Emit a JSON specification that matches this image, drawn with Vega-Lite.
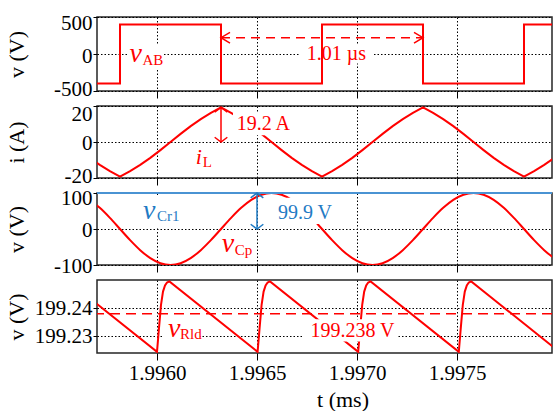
{
  "$schema": "https://vega.github.io/schema/vega-lite/v6.json",
  "background": "white",
  "padding": {"left": 4, "top": 11, "right": 0, "bottom": 0},
  "spacing": 15,
  "bounds": "flush",
  "config": {
    "font": "Liberation Serif, Times New Roman, serif",
    "view": {"stroke": "#262626", "strokeWidth": 1.5},
    "axis": {
      "labelFont": "Liberation Serif, Times New Roman, serif", "labelFontSize": 21, "labelColor": "black", "labelOverlap": false,
      "titleFont": "Liberation Serif, Times New Roman, serif", "titleFontSize": 22, "titleFontWeight": "normal", "titleColor": "black",
      "domain": false, "tickColor": "black", "tickWidth": 1,
      "gridColor": "black", "gridDash": [1.5, 2], "gridOpacity": 1, "gridWidth": 1
    },
    "axisX": {"tickSize": 7, "labelPadding": 2, "labelFlush": false, "tickCount": 20},
    "axisY": {"tickSize": 4, "labelPadding": 1, "titleX": -69, "tickCount": 10},
    "text": {"font": "Liberation Serif, Times New Roman, serif"}
  },
  "datasets": {
    "one": [{}],
    "sq": [
      {"t": 1.9957, "vAB": -400},
      {"t": 1.995815, "vAB": 400},
      {"t": 1.99632, "vAB": -400},
      {"t": 1.996825, "vAB": 400},
      {"t": 1.99733, "vAB": -400},
      {"t": 1.997835, "vAB": 400},
      {"t": 1.99805, "vAB": 400}
    ],
    "main": [
      {"t": 1.9956635, "iL": -8.8, "vCp": 80.8},
      {"t": 1.995714, "iL": -12.7, "vCp": 58.7},
      {"t": 1.9957645, "iL": -16.2, "vCp": 30.9},
      {"t": 1.995815, "iL": -19.2, "vCp": 0},
      {"t": 1.9958655, "iL": -16.2, "vCp": -30.9},
      {"t": 1.995916, "iL": -12.7, "vCp": -58.7},
      {"t": 1.9959665, "iL": -8.8, "vCp": -80.8},
      {"t": 1.996017, "iL": -4.5, "vCp": -95.0},
      {"t": 1.9960675, "iL": 0, "vCp": -99.9},
      {"t": 1.996118, "iL": 4.5, "vCp": -95.0},
      {"t": 1.9961685, "iL": 8.8, "vCp": -80.8},
      {"t": 1.996219, "iL": 12.7, "vCp": -58.7},
      {"t": 1.9962695, "iL": 16.2, "vCp": -30.9},
      {"t": 1.99632, "iL": 19.2, "vCp": 0},
      {"t": 1.9963705, "iL": 16.2, "vCp": 30.9},
      {"t": 1.996421, "iL": 12.7, "vCp": 58.7},
      {"t": 1.9964715, "iL": 8.8, "vCp": 80.8},
      {"t": 1.996522, "iL": 4.5, "vCp": 95.0},
      {"t": 1.9965725, "iL": 0, "vCp": 99.9},
      {"t": 1.996623, "iL": -4.5, "vCp": 95.0},
      {"t": 1.9966735, "iL": -8.8, "vCp": 80.8},
      {"t": 1.996724, "iL": -12.7, "vCp": 58.7},
      {"t": 1.9967745, "iL": -16.2, "vCp": 30.9},
      {"t": 1.996825, "iL": -19.2, "vCp": 0},
      {"t": 1.9968755, "iL": -16.2, "vCp": -30.9},
      {"t": 1.996926, "iL": -12.7, "vCp": -58.7},
      {"t": 1.9969765, "iL": -8.8, "vCp": -80.8},
      {"t": 1.997027, "iL": -4.5, "vCp": -95.0},
      {"t": 1.9970775, "iL": 0, "vCp": -99.9},
      {"t": 1.997128, "iL": 4.5, "vCp": -95.0},
      {"t": 1.9971785, "iL": 8.8, "vCp": -80.8},
      {"t": 1.997229, "iL": 12.7, "vCp": -58.7},
      {"t": 1.9972795, "iL": 16.2, "vCp": -30.9},
      {"t": 1.99733, "iL": 19.2, "vCp": 0},
      {"t": 1.9973805, "iL": 16.2, "vCp": 30.9},
      {"t": 1.997431, "iL": 12.7, "vCp": 58.7},
      {"t": 1.9974815, "iL": 8.8, "vCp": 80.8},
      {"t": 1.997532, "iL": 4.5, "vCp": 95.0},
      {"t": 1.9975825, "iL": 0, "vCp": 99.9},
      {"t": 1.997633, "iL": -4.5, "vCp": 95.0},
      {"t": 1.9976835, "iL": -8.8, "vCp": 80.8},
      {"t": 1.997734, "iL": -12.7, "vCp": 58.7},
      {"t": 1.9977845, "iL": -16.2, "vCp": 30.9},
      {"t": 1.997835, "iL": -19.2, "vCp": 0},
      {"t": 1.9978855, "iL": -16.2, "vCp": -30.9},
      {"t": 1.997936, "iL": -12.7, "vCp": -58.7},
      {"t": 1.9979865, "iL": -8.8, "vCp": -80.8},
      {"t": 1.998037, "iL": -4.5, "vCp": -95.0}
    ],
    "rld": [
      {"t": 1.995559, "v": 199.2494},
      {"t": 1.996000, "v": 199.2245},
      {"t": 1.996010, "v": 199.2330},
      {"t": 1.996020, "v": 199.2411},
      {"t": 1.996030, "v": 199.2458},
      {"t": 1.996040, "v": 199.2480},
      {"t": 1.996050, "v": 199.2490},
      {"t": 1.996062, "v": 199.2494},
      {"t": 1.996503, "v": 199.2245},
      {"t": 1.996513, "v": 199.2330},
      {"t": 1.996523, "v": 199.2411},
      {"t": 1.996533, "v": 199.2458},
      {"t": 1.996543, "v": 199.2480},
      {"t": 1.996553, "v": 199.2490},
      {"t": 1.996565, "v": 199.2494},
      {"t": 1.997006, "v": 199.2245},
      {"t": 1.997016, "v": 199.2330},
      {"t": 1.997026, "v": 199.2411},
      {"t": 1.997036, "v": 199.2458},
      {"t": 1.997046, "v": 199.2480},
      {"t": 1.997056, "v": 199.2490},
      {"t": 1.997068, "v": 199.2494},
      {"t": 1.997509, "v": 199.2245},
      {"t": 1.997519, "v": 199.2330},
      {"t": 1.997529, "v": 199.2411},
      {"t": 1.997539, "v": 199.2458},
      {"t": 1.997549, "v": 199.2480},
      {"t": 1.997559, "v": 199.2490},
      {"t": 1.997571, "v": 199.2494},
      {"t": 1.998012, "v": 199.2245}
    ]
  },
  "vconcat": [
    {
      "width": 455, "height": 74,
      "layer": [
        {
          "data": {"name": "sq"},
          "mark": {"type": "line", "color": "red", "strokeWidth": 2, "interpolate": "step-after", "clip": true, "opacity": 0},
          "encoding": {
            "x": {"field": "t", "type": "quantitative", "scale": {"domain": [1.9957, 1.997975], "nice": false, "zero": false},
                  "axis": {"values": [1.996, 1.9965, 1.997, 1.9975], "labels": false, "title": null, "grid": true}},
            "y": {"field": "vAB", "type": "quantitative", "scale": {"domain": [-500, 500], "nice": false, "zero": false},
                  "axis": {"values": [-500, 0, 500], "title": "v (V)", "grid": true, "labelOverlap": false,
                           "labelExpr": "datum.value == 0 ? '0' : (datum.value > 0 ? '500' : '-500')",
                           "labelOffset": {"condition": [{"test": "datum.value == 500", "value": 6}, {"test": "datum.value == 0", "value": 2}], "value": -2}}}
          }
        },
        {"data": {"name": "one"}, "mark": {"type": "rect", "fill": "white"},
         "encoding": {"x": {"datum": 1.99585}, "x2": {"datum": 1.996025}, "y": {"datum": 135}, "y2": {"datum": -190}}},
        {"data": {"name": "one"}, "mark": {"type": "rect", "fill": "white"},
         "encoding": {"x": {"datum": 1.99671}, "x2": {"datum": 1.99708}, "y": {"datum": 130}, "y2": {"datum": -130}}},
        {"data": {"name": "one"}, "mark": {"type": "text", "text": "1.01 µs", "fontSize": 20, "color": "red", "align": "center", "baseline": "middle"},
         "encoding": {"x": {"datum": 1.9968975}, "y": {"datum": 0}}},
        {"data": {"name": "one"}, "mark": {"type": "text", "text": "v", "fontSize": 28, "fontStyle": "italic", "color": "red", "align": "left", "baseline": "alphabetic"},
         "encoding": {"x": {"datum": 1.9958625}, "y": {"datum": -108}}},
        {"data": {"name": "one"}, "mark": {"type": "text", "text": "AB", "fontSize": 15, "color": "red", "align": "left", "baseline": "alphabetic", "dx": 13, "dy": 3},
         "encoding": {"x": {"datum": 1.9958625}, "y": {"datum": -108}}},
        {
          "data": {"name": "sq"},
          "mark": {"type": "line", "color": "red", "strokeWidth": 2, "interpolate": "step-after", "clip": true},
          "encoding": {"x": {"field": "t", "type": "quantitative"}, "y": {"field": "vAB", "type": "quantitative"}}
        },
        {"data": {"name": "one"}, "mark": {"type": "rule", "color": "red", "strokeWidth": 1.5, "strokeDash": [9, 6]},
         "encoding": {"x": {"datum": 1.99632}, "x2": {"datum": 1.99733}, "y": {"datum": 220}}},
        {"data": {"name": "one"}, "mark": {"type": "point", "shape": "M 1 -0.6 L 0 0 L 1 0.6", "size": 324, "filled": false, "color": "red", "strokeWidth": 1.5, "opacity": 1},
         "encoding": {"x": {"datum": 1.99632}, "y": {"datum": 220}}},
        {"data": {"name": "one"}, "mark": {"type": "point", "shape": "M -1 -0.6 L 0 0 L -1 0.6", "size": 324, "filled": false, "color": "red", "strokeWidth": 1.5, "opacity": 1},
         "encoding": {"x": {"datum": 1.99733}, "y": {"datum": 220}}}
      ]
    },
    {
      "width": 455, "height": 72,
      "layer": [
        {
          "data": {"name": "main"},
          "mark": {"type": "line", "color": "red", "strokeWidth": 2, "clip": true},
          "encoding": {
            "x": {"field": "t", "type": "quantitative", "scale": {"domain": [1.9957, 1.997975], "nice": false, "zero": false},
                  "axis": {"values": [1.996, 1.9965, 1.997, 1.9975], "labels": false, "title": null, "grid": true}},
            "y": {"field": "iL", "type": "quantitative", "scale": {"domain": [-20, 20], "nice": false, "zero": false},
                  "axis": {"values": [-20, 0, 20], "title": "i (A)", "grid": true, "labelOverlap": false,
                           "labelExpr": "datum.value == 0 ? '0' : (datum.value > 0 ? '20' : '-20')",
                           "labelOffset": {"condition": [{"test": "datum.value == 20", "value": 8}, {"test": "datum.value == 0", "value": 1}], "value": -2}}}
          }
        },
        {"data": {"name": "one"}, "mark": {"type": "rect", "fill": "white"},
         "encoding": {"x": {"datum": 1.99638}, "x2": {"datum": 1.99668}, "y": {"datum": 3.7}, "y2": {"datum": 16.5}}},
        {"data": {"name": "one"}, "mark": {"type": "text", "text": "19.2 A", "fontSize": 20, "color": "red", "align": "center", "baseline": "middle"},
         "encoding": {"x": {"datum": 1.996532}, "y": {"datum": 9.8}}},
        {"data": {"name": "one"}, "mark": {"type": "rule", "color": "red", "strokeWidth": 1.5},
         "encoding": {"x": {"datum": 1.99632}, "y": {"datum": 19.2}, "y2": {"datum": 0}}},
        {"data": {"name": "one"}, "mark": {"type": "point", "shape": "M -1 0.75 L 0 0 L 1 0.75", "size": 160, "filled": false, "color": "red", "strokeWidth": 1.5, "opacity": 1},
         "encoding": {"x": {"datum": 1.99632}, "y": {"datum": 19.2}}},
        {"data": {"name": "one"}, "mark": {"type": "point", "shape": "M -1 -0.75 L 0 0 L 1 -0.75", "size": 160, "filled": false, "color": "red", "strokeWidth": 1.5, "opacity": 1},
         "encoding": {"x": {"datum": 1.99632}, "y": {"datum": 0}}},
        {"data": {"name": "one"}, "mark": {"type": "text", "text": "i", "fontSize": 22, "fontStyle": "italic", "color": "red", "align": "left", "baseline": "alphabetic"},
         "encoding": {"x": {"datum": 1.9961935}, "y": {"datum": -12.1}}},
        {"data": {"name": "one"}, "mark": {"type": "text", "text": "L", "fontSize": 15, "color": "red", "align": "left", "baseline": "alphabetic", "dx": 7, "dy": 3},
         "encoding": {"x": {"datum": 1.9961935}, "y": {"datum": -12.1}}}
      ]
    },
    {
      "width": 455, "height": 72,
      "layer": [
        {
          "data": {"name": "main"},
          "mark": {"type": "line", "color": "red", "strokeWidth": 2, "interpolate": "monotone", "clip": true},
          "encoding": {
            "x": {"field": "t", "type": "quantitative", "scale": {"domain": [1.9957, 1.997975], "nice": false, "zero": false},
                  "axis": {"values": [1.996, 1.9965, 1.997, 1.9975], "labels": false, "title": null, "grid": true}},
            "y": {"field": "vCp", "type": "quantitative", "scale": {"domain": [-100, 100], "nice": false, "zero": false},
                  "axis": {"values": [-100, 0, 100], "title": "v (V)", "grid": true, "labelOverlap": false,
                           "labelExpr": "datum.value == 0 ? '0' : (datum.value > 0 ? '100' : '-100')",
                           "labelOffset": {"condition": [{"test": "datum.value == 100", "value": 5}, {"test": "datum.value == 0", "value": 1}], "value": 1}}}
          }
        },
        {"data": {"name": "one"}, "mark": {"type": "rect", "fill": "white"},
         "encoding": {"x": {"datum": 1.99659}, "x2": {"datum": 1.99689}, "y": {"datum": 14}, "y2": {"datum": 87}}},
        {"data": {"name": "one"}, "mark": {"type": "rect", "fill": "white"},
         "encoding": {"x": {"datum": 1.99592}, "x2": {"datum": 1.9961}, "y": {"datum": 3}, "y2": {"datum": 93}}},
        {"data": {"name": "one"}, "mark": {"type": "text", "text": "99.9 V", "fontSize": 20, "color": "#1f7bc4", "align": "center", "baseline": "middle"},
         "encoding": {"x": {"datum": 1.99674}, "y": {"datum": 45}}},
        {"data": {"name": "one"}, "mark": {"type": "text", "text": "v", "fontSize": 28, "fontStyle": "italic", "color": "#1f7bc4", "align": "left", "baseline": "alphabetic"},
         "encoding": {"x": {"datum": 1.99593}, "y": {"datum": 26.8}}},
        {"data": {"name": "one"}, "mark": {"type": "text", "text": "Cr1", "fontSize": 15, "color": "#1f7bc4", "align": "left", "baseline": "alphabetic", "dx": 14, "dy": 2},
         "encoding": {"x": {"datum": 1.99593}, "y": {"datum": 26.8}}},
        {"data": {"name": "one"}, "mark": {"type": "text", "text": "v", "fontSize": 28, "fontStyle": "italic", "color": "red", "align": "left", "baseline": "alphabetic"},
         "encoding": {"x": {"datum": 1.9963235}, "y": {"datum": -62.5}}},
        {"data": {"name": "one"}, "mark": {"type": "text", "text": "Cp", "fontSize": 15, "color": "red", "align": "left", "baseline": "alphabetic", "dx": 13, "dy": 3},
         "encoding": {"x": {"datum": 1.9963235}, "y": {"datum": -62.5}}},
        {"data": {"name": "one"}, "mark": {"type": "rule", "color": "#4a93d3", "strokeWidth": 2},
         "encoding": {"y": {"datum": 99.9}}},
        {"data": {"name": "one"}, "mark": {"type": "rule", "color": "#1f7bc4", "strokeWidth": 1.5},
         "encoding": {"x": {"datum": 1.9965}, "y": {"datum": 99.9}, "y2": {"datum": 0}}},
        {"data": {"name": "one"}, "mark": {"type": "point", "shape": "M -1 0.75 L 0 0 L 1 0.75", "size": 160, "filled": false, "color": "#1f7bc4", "strokeWidth": 1.5, "opacity": 1},
         "encoding": {"x": {"datum": 1.9965}, "y": {"datum": 99.9}}},
        {"data": {"name": "one"}, "mark": {"type": "point", "shape": "M -1 -0.75 L 0 0 L 1 -0.75", "size": 160, "filled": false, "color": "#1f7bc4", "strokeWidth": 1.5, "opacity": 1},
         "encoding": {"x": {"datum": 1.9965}, "y": {"datum": 0}}}
      ]
    },
    {
      "width": 455, "height": 73,
      "layer": [
        {
          "data": {"name": "rld"},
          "mark": {"type": "line", "color": "red", "strokeWidth": 2, "clip": true},
          "encoding": {
            "x": {"field": "t", "type": "quantitative", "scale": {"domain": [1.9957, 1.997975], "nice": false, "zero": false},
                  "axis": {"values": [1.996, 1.9965, 1.997, 1.9975], "format": ".4f", "title": "t (ms)", "grid": true, "titleX": 245.5, "titlePadding": 6}},
            "y": {"field": "v", "type": "quantitative", "scale": {"domain": [199.2241, 199.2499], "nice": false, "zero": false},
                  "axis": {"values": [199.23, 199.24], "format": ".2f", "title": "v (V)", "grid": true, "labelOverlap": false}}
          }
        },
        {"data": {"name": "one"}, "mark": {"type": "rule", "color": "red", "strokeWidth": 1.5, "strokeDash": [10, 6]},
         "encoding": {"y": {"datum": 199.238}}},
        {"data": {"name": "one"}, "mark": {"type": "rect", "fill": "white"},
         "encoding": {"x": {"datum": 1.99673}, "x2": {"datum": 1.997205}, "y": {"datum": 199.2282}, "y2": {"datum": 199.2360}}},
        {"data": {"name": "one"}, "mark": {"type": "text", "text": "199.238 V", "fontSize": 20, "color": "red", "align": "center", "baseline": "middle"},
         "encoding": {"x": {"datum": 1.9969775}, "y": {"datum": 199.2318}}},
        {"data": {"name": "one"}, "mark": {"type": "rect", "fill": "white"},
         "encoding": {"x": {"datum": 1.99603}, "x2": {"datum": 1.996215}, "y": {"datum": 199.2273}, "y2": {"datum": 199.2355}}},
        {"data": {"name": "one"}, "mark": {"type": "text", "text": "v", "fontSize": 28, "fontStyle": "italic", "color": "red", "align": "left", "baseline": "alphabetic"},
         "encoding": {"x": {"datum": 1.996055}, "y": {"datum": 199.2298}}},
        {"data": {"name": "one"}, "mark": {"type": "text", "text": "Rld", "fontSize": 15, "color": "red", "align": "left", "baseline": "alphabetic", "dx": 12, "dy": 2},
         "encoding": {"x": {"datum": 1.996055}, "y": {"datum": 199.2298}}}
      ]
    }
  ]
}
